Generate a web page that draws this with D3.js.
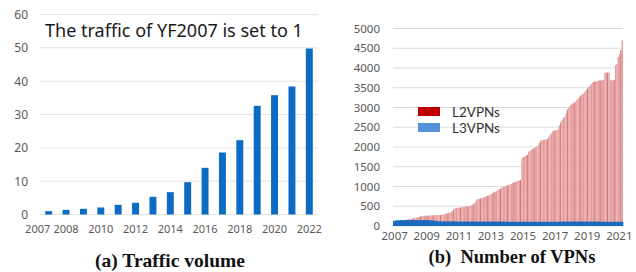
<!DOCTYPE html>
<html><head><meta charset="utf-8">
<script src="https://cdn.jsdelivr.net/npm/d3@7"></script>
<style>
html,body{margin:0;padding:0;background:#fff;}
svg{display:block;}
.tick text{font-family:"Noto Sans",sans-serif;fill:#595959;}
</style></head>
<body>
<svg id="c" width="636" height="272"></svg>
<script>
// ---------- (a) Traffic volume ----------
const trafficYears = [2007,2008,2009,2010,2011,2012,2013,2014,2015,2016,2017,2018,2019,2020,2021,2022];
const trafficValues = [1.0,1.4,1.7,2.1,2.9,3.5,5.3,6.7,9.7,14.0,18.6,22.3,32.6,35.8,38.4,49.8];
const trafficXTicks = [2007,2008,2010,2012,2014,2016,2018,2020,2022];
const trafficYTicks = [0,10,20,30,40,50,60];
const trafficNote = "The traffic of YF2007 is set to 1";
const captionA = "(a) Traffic volume";

// ---------- (b) Number of VPNs (monthly, Jan 2007 - Apr 2021) ----------
const vpnYears = [2007,2008,2009,2010,2011,2012,2013,2014,2015,2016,2017,2018,2019,2020,2021];
const l2vpn = [
  80,85,90,95,100,105,110,120,130,150,160,170,
  175,180,190,195,200,210,220,230,240,250,255,260,
  260,262,265,265,268,270,270,272,275,275,278,280,
  285,290,300,310,320,330,340,360,380,420,450,455,
  460,465,470,475,480,485,490,495,500,510,520,540,
  560,600,670,680,690,700,710,720,730,745,760,770,
  790,810,830,850,870,890,910,930,950,970,990,1000,
  1010,1025,1040,1055,1070,1085,1100,1115,1130,1140,1155,1165,
  1710,1740,1760,1780,1800,1880,1900,1930,1950,1970,1990,2000,
  2050,2100,2150,2175,2180,2185,2190,2200,2260,2300,2350,2400,
  2410,2420,2430,2450,2550,2620,2680,2740,2770,2850,2950,3000,
  3060,3080,3100,3120,3150,3190,3230,3270,3300,3330,3360,3400,
  3440,3480,3520,3560,3600,3640,3650,3660,3670,3680,3690,3680,
  3690,3700,3880,3890,3880,3880,3700,3690,3680,3700,4070,4100,
  4280,4350,4450,4700
];
const l3vpn = [
  130,135,140,145,145,150,150,150,150,150,150,150,
  150,150,150,150,150,150,150,150,150,150,150,150,
  150,150,145,145,140,140,135,130,125,120,115,115,
  115,115,115,115,115,115,115,115,115,115,115,115,
  110,110,110,110,110,110,110,110,110,110,110,110,
  110,110,110,110,110,110,110,110,110,110,110,110,
  110,110,110,110,110,110,110,110,110,110,110,110,
  105,105,105,105,105,105,105,105,105,105,105,105,
  105,105,105,105,105,105,105,105,105,105,105,105,
  105,105,105,105,105,105,105,105,105,105,105,105,
  105,105,105,105,110,110,110,110,110,110,110,110,
  110,110,110,110,110,110,110,110,110,110,110,110,
  110,110,110,110,110,110,110,110,110,110,110,110,
  105,105,105,105,105,105,105,105,105,105,105,105,
  105,105,105,105
];
const vpnXTicks = [2007,2009,2011,2013,2015,2017,2019,2021];
const vpnYTicks = [0,500,1000,1500,2000,2500,3000,3500,4000,4500,5000];
const legendNames = ["L2VPNs","L3VPNs"];
const captionB = "(b)  Number of VPNs";

const svg = d3.select("#c");

// ================= Chart (a) =================
{
  const x = d3.scaleBand().domain(trafficYears).range([40,318]).paddingInner(0.6).paddingOuter(0.3);
  const y = d3.scaleLinear().domain([0,60]).range([214.5,14.5]);
  const g = svg.append("g");
  g.append("g").selectAll("line").data(trafficYTicks).join("line")
    .attr("x1",40).attr("x2",318)
    .attr("y1",d=>y(d)).attr("y2",d=>y(d))
    .attr("stroke","#e3e3e3").attr("stroke-width",1);
  const ya = g.append("g").attr("transform","translate(40,0)")
    .call(d3.axisLeft(y).tickValues(trafficYTicks).tickSize(0).tickPadding(12));
  ya.select(".domain").remove();
  ya.selectAll("text").attr("font-size",12);
  g.append("g").selectAll("rect").data(trafficYears).join("rect")
    .attr("x",(d)=>x(d)).attr("width",x.bandwidth())
    .attr("y",(d,i)=>y(trafficValues[i]))
    .attr("height",(d,i)=>y(0)-y(trafficValues[i]))
    .attr("fill","#0b6cc4");
  const xa = g.append("g").attr("transform",`translate(0,${y(0)})`)
    .call(d3.axisBottom(x).tickValues(trafficXTicks).tickSize(0).tickPadding(11));
  xa.select(".domain").remove();
  xa.selectAll("text").attr("font-size",11)
    .attr("dx",d=>d===2007?-11:0);
  const note = g.append("text").text(trafficNote)
    .attr("x",45).attr("y",37)
    .attr("font-family","Noto Sans, sans-serif").attr("font-size",18).attr("fill","#1a1a1a");
  const w = note.node().getComputedTextLength();
  note.attr("font-size",18*258/w);
  g.append("text").text(captionA).attr("x",170).attr("y",267)
    .attr("text-anchor","middle")
    .attr("font-family","Liberation Serif, Times New Roman, serif")
    .attr("font-weight","bold").attr("font-size",19.5).attr("fill","#111");
}

// ================= Chart (b) =================
{
  const n = l2vpn.length;
  const idx = d3.range(n);
  const x = d3.scaleBand().domain(idx).range([393,623]).padding(0);
  const y = d3.scaleLinear().domain([0,5000]).range([226,28.5]);
  const g = svg.append("g");
  g.append("g").selectAll("line").data(vpnYTicks).join("line")
    .attr("x1",393).attr("x2",623)
    .attr("y1",d=>y(d)).attr("y2",d=>y(d))
    .attr("stroke","#dcdcdc").attr("stroke-width",1);
  const ya = g.append("g").attr("transform","translate(393,0)")
    .call(d3.axisLeft(y).tickValues(vpnYTicks).tickFormat(d3.format("d")).tickSize(0).tickPadding(13));
  ya.select(".domain").remove();
  ya.selectAll("text").attr("font-size",11.5);
  g.append("g").selectAll("rect").data(idx).join("rect")
    .attr("x",d=>x(d)).attr("width",x.bandwidth())
    .attr("y",d=>y(l2vpn[d])).attr("height",d=>y(0)-y(l2vpn[d]))
    .attr("fill","#e49e9e");
  g.append("g").selectAll("line").data(idx.filter(d=>d%5===0)).join("line")
    .attr("x1",d=>x(d)+0.5).attr("x2",d=>x(d)+0.5)
    .attr("y1",d=>y(l2vpn[d])).attr("y2",y(0))
    .attr("stroke","#c23a3a").attr("stroke-width",0.6).attr("opacity",0.7);
  g.append("g").selectAll("rect").data(idx).join("rect")
    .attr("x",d=>x(d)).attr("width",x.bandwidth()+0.3)
    .attr("y",d=>y(l3vpn[d])).attr("height",d=>y(0)-y(l3vpn[d]))
    .attr("fill","#1468c0");
  const yearPos = d3.scaleOrdinal().domain(vpnYears).range(vpnYears.map((yr,i)=>x(i*12)+x.bandwidth()/2));
  const xa = g.append("g").attr("transform",`translate(0,${y(0)})`);
  xa.selectAll("text").data(vpnXTicks).join("text")
    .attr("x",d=>yearPos(d)+1).attr("y",14)
    .attr("text-anchor","middle").attr("font-size",11.5)
    .attr("font-family","Noto Sans, sans-serif").attr("fill","#595959")
    .text(d=>d);
  const lg = g.append("g");
  const colors = ["#c00000","#5592dc"];
  lg.selectAll("rect").data(legendNames).join("rect")
    .attr("x",418).attr("y",(d,i)=>107+i*16).attr("width",22).attr("height",9)
    .attr("fill",(d,i)=>colors[i]);
  lg.selectAll("text").data(legendNames).join("text")
    .attr("x",452).attr("y",(d,i)=>116.5+i*16)
    .attr("font-family","Lato, Noto Sans, sans-serif").attr("font-size",13.5).attr("fill","#333")
    .text(d=>d);
  g.append("text").text(captionB).attr("x",512).attr("y",263)
    .attr("text-anchor","middle").attr("xml:space","preserve").style("white-space","pre")
    .attr("font-family","Liberation Serif, Times New Roman, serif")
    .attr("font-weight","bold").attr("font-size",18.5).attr("fill","#111");
}
</script>
</body></html>
